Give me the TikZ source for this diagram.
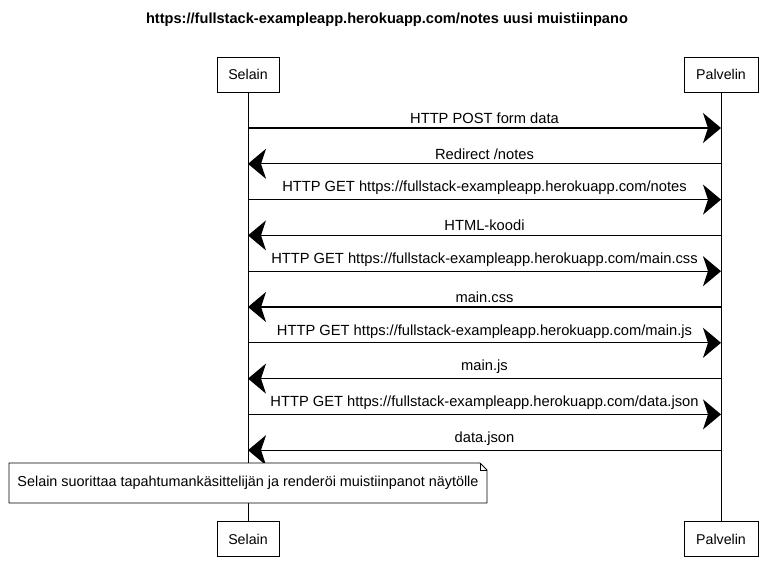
\documentclass[tikz,border=0pt]{standalone}
\usepackage{fontspec}
\setmainfont{Liberation Sans}
\usetikzlibrary{arrows.meta}
\begin{document}
\begin{tikzpicture}[x=1pt,y=-1pt,
  actorbox/.style={draw=drawColor,fill=white,line width=0.8pt,minimum width=62pt,minimum height=35pt,inner sep=0pt,font=\fontsize{14.2}{16}\selectfont},
  lifeline/.style={draw=drawColor,line width=0.8pt},
  msg/.style={draw=drawColor,line width=1.2pt,-{Stealth[length=18pt,width=30pt,inset=5pt]}},
  msglabel/.style={midway,above=3pt,inner sep=1pt,font=\fontsize{14.7}{16}\selectfont}]
\definecolor[named]{drawColor}{rgb}{0.00,0.00,0.00}
\path[use as bounding box,fill=white] (0,0) rectangle (772,584);

\node[font=\bfseries\fontsize{14.6}{16}\selectfont] (title) at (387,20) {https://fullstack-exampleapp.herokuapp.com/notes uusi muistiinpano};

\node[actorbox] (selainTop) at (248,74.5) {Selain};
\node[actorbox,minimum width=74pt] (palvelinTop) at (721,74.5) {Palvelin};
\node[actorbox] (selainBot) at (248,539) {Selain};
\node[actorbox,minimum width=74pt] (palvelinBot) at (721,539) {Palvelin};

\path[lifeline] (selainTop) -- (selainBot);
\path[lifeline] (palvelinTop) -- (palvelinBot);

\coordinate (s1) at (248,128.0);  \coordinate (p1) at (721,128.0);
\coordinate (s2) at (248,163.8);  \coordinate (p2) at (721,163.8);
\coordinate (s3) at (248,199.6);  \coordinate (p3) at (721,199.6);
\coordinate (s4) at (248,235.4);  \coordinate (p4) at (721,235.4);
\coordinate (s5) at (248,271.2);  \coordinate (p5) at (721,271.2);
\coordinate (s6) at (248,307.0);  \coordinate (p6) at (721,307.0);
\coordinate (s7) at (248,342.8);  \coordinate (p7) at (721,342.8);
\coordinate (s8) at (248,378.6);  \coordinate (p8) at (721,378.6);
\coordinate (s9) at (248,414.4);  \coordinate (p9) at (721,414.4);
\coordinate (s10) at (248,450.2); \coordinate (p10) at (721,450.2);

\path[msg] (s1) -- node[msglabel] (m1) {HTTP POST form data} (p1);
\path[msg] (p2) -- node[msglabel] (m2) {Redirect /notes} (s2);
\path[msg] (s3) -- node[msglabel] (m3) {HTTP GET https://fullstack-exampleapp.herokuapp.com/notes} (p3);
\path[msg] (p4) -- node[msglabel] (m4) {HTML-koodi} (s4);
\path[msg] (s5) -- node[msglabel] (m5) {HTTP GET https://fullstack-exampleapp.herokuapp.com/main.css} (p5);
\path[msg] (p6) -- node[msglabel] (m6) {main.css} (s6);
\path[msg] (s7) -- node[msglabel] (m7) {HTTP GET https://fullstack-exampleapp.herokuapp.com/main.js} (p7);
\path[msg] (p8) -- node[msglabel] (m8) {main.js} (s8);
\path[msg] (s9) -- node[msglabel] (m9) {HTTP GET https://fullstack-exampleapp.herokuapp.com/data.json} (p9);
\path[msg] (p10) -- node[msglabel] (m10) {data.json} (s10);

\path[draw=drawColor,fill=white,line width=0.8pt] (9,463) -- (480,463) -- (487,470) -- (487,503) -- (9,503) -- cycle;
\path[draw=drawColor,line width=0.5pt] (480,463) -- (480,470) -- (487,470);
\node[font=\fontsize{14.4}{16}\selectfont] (note) at (248,483) {Selain suorittaa tapahtumankäsittelijän ja renderöi muistiinpanot näytölle};
\end{tikzpicture}
\end{document}
